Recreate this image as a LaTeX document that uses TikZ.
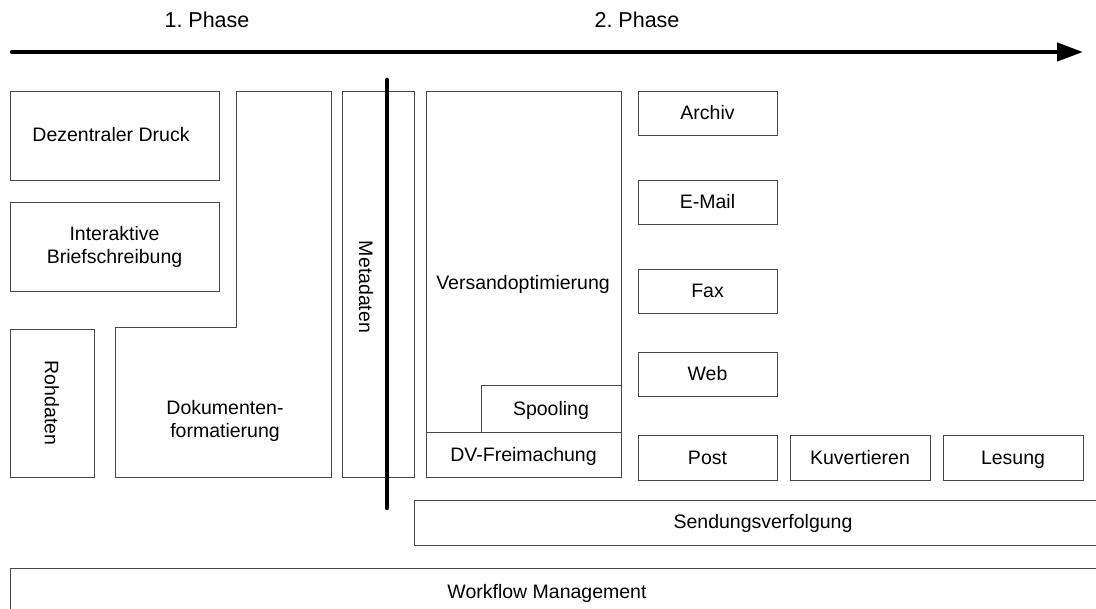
\documentclass[tikz,border=0pt]{standalone}
\usepackage{fontspec}
\setmainfont{Liberation Sans}
\usetikzlibrary{arrows.meta}
\frenchspacing
\begin{document}
\begin{tikzpicture}[x=1pt,y=-1pt,
  box/.style={draw=black!72, line width=0.9pt, inner sep=0pt, align=center},
  lbl/.style={inner sep=0pt, align=center},
  oneline/.style={text height=18pt, text depth=4pt},
  heavy/.style={line width=4.5pt, line cap=round, black},
  every node/.style={font=\fontsize{19.5}{23}\selectfont},
  phase/.style={lbl, font=\fontsize{21.5}{25}\selectfont}]
\useasboundingbox (0,0) rectangle (1096,609);

% phase timeline
\node[phase] (ph1) at (207,20) {1. Phase};
\node[phase] (ph2) at (637,20) {2. Phase};
\coordinate (tstart) at (12,52);
\coordinate (tend) at (1083,52);
\draw[heavy, -{Triangle[length=26pt,width=18pt]}] (tstart) -- (tend);

% phase 1
\node[box, minimum width=209pt, minimum height=89pt] (druck) at (114.5,135.5) {};
\node[lbl, oneline] (drucktext) at (111,135) {Dezentraler Druck};
\node[box, minimum width=209pt, minimum height=89pt] (brief) at (114.5,246.5) {Interaktive\\Briefschreibung};
\node[box, oneline, rotate=-90, minimum width=148pt, minimum height=84pt] (roh) at (52,403) {Rohdaten};
\draw[draw=black!72, line width=0.9pt] (236,91) -- (331,91) -- (331,477) -- (115,477) -- (115,327) -- (236,327) -- cycle;
\node[lbl] (doku) at (225,421) {Dokumenten-\\formatierung};

% metadata column
\node[box, minimum width=72pt, minimum height=386pt] (meta) at (378,284) {};
\node[lbl, oneline, rotate=-90] (metatext) at (366,287) {Metadaten};

% phase 2
\node[box, minimum width=195pt, minimum height=386pt] (versand) at (523.5,284) {};
\node[lbl, oneline] (versandtext) at (523,283) {Versandoptimierung};
\node[box, oneline, minimum width=140pt, minimum height=47pt] (spool) at (551,408.5) {Spooling};
\node[box, oneline, minimum width=195pt, minimum height=45pt] (dv) at (523.5,454.5) {DV-Freimachung};

\node[box, oneline, minimum width=139pt, minimum height=44pt] (archiv) at (707.5,113) {Archiv};
\node[box, oneline, minimum width=139pt, minimum height=44pt] (mail) at (707.5,202) {E-Mail};
\node[box, oneline, minimum width=139pt, minimum height=44pt] (fax) at (707.5,291) {Fax};
\node[box, oneline, minimum width=139pt, minimum height=44pt] (web) at (707.5,374) {Web};
\node[box, oneline, minimum width=139pt, minimum height=45pt] (post) at (707.5,457.5) {Post};
\node[box, oneline, minimum width=140pt, minimum height=45pt] (kuv) at (860,457.5) {Kuvertieren};
\node[box, oneline, minimum width=140pt, minimum height=45pt] (les) at (1013,457.5) {Lesung};

% divider between the phases
\coordinate (dtop) at (387,80);
\coordinate (dbot) at (387,508);
\draw[heavy] (dtop) -- (dbot);

% cross-cutting bars
\node[box, minimum width=696pt, minimum height=45pt] (sendung) at (762,522.5) {};
\node[lbl, oneline] (sendungtext) at (763,522) {Sendungsverfolgung};
\node[box, minimum width=1100pt, minimum height=52pt] (wf) at (560,594) {};
\node[lbl, oneline] (wftext) at (547,591) {Workflow Management};
\end{tikzpicture}
\end{document}
